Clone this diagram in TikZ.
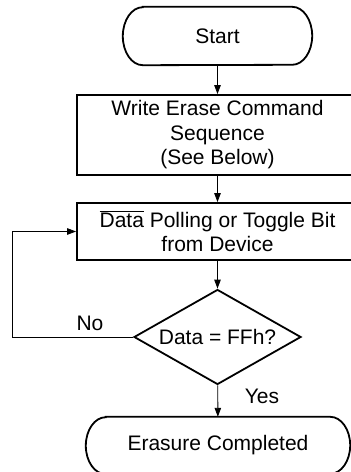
\documentclass[tikz,border=0pt]{standalone}
\usepackage{fontspec}
\setmainfont{Liberation Sans}
\usetikzlibrary{shapes.geometric,arrows.meta}
\begin{document}
\begin{tikzpicture}[x=1pt,y=1pt,
  txt/.style={font=\fontsize{21}{24.5}\selectfont},
  box/.style={txt,draw,line width=1.8pt,minimum width=281pt,inner sep=0pt,align=center},
  pill/.style={txt,minimum height=58pt,inner sep=0pt},
  pillline/.style={line width=1.8pt},
  conn/.style={line width=0.9pt,-{Triangle[length=9pt,width=6.5pt]}}]
\clip (0,0) rectangle (351,472);
% start
\node[pill,minimum width=189pt] (start) at (217.5,436) {Start};
\draw[pillline] ([xshift=20pt]start.north west) -- ([xshift=-20pt]start.north east)
  arc[start angle=90,end angle=-90,x radius=20pt,y radius=29pt]
  -- ([xshift=20pt]start.south west)
  arc[start angle=270,end angle=90,x radius=20pt,y radius=29pt] -- cycle;
% boxes
\node[box,minimum height=80pt] (b1) at (217.5,337) {Write Erase Command\\Sequence\\(See Below)};
\node[box,minimum height=57pt] (b2) at (217.5,240.5) {$\overline{\mbox{Data}}$ Polling or Toggle Bit\\from Device};
% decision
\node[txt,draw,diamond,line width=1.8pt,minimum width=167pt,minimum height=95pt,inner sep=0pt,aspect=1.76] (dec) at (217.5,135) {Data = FFh?};
% end
\node[pill,minimum width=264pt,minimum height=57pt] (end) at (218,26.5) {Erasure Completed};
\draw[pillline] ([xshift=20pt]end.north west) -- ([xshift=-20pt]end.north east)
  arc[start angle=90,end angle=-90,x radius=20pt,y radius=28.5pt]
  -- ([xshift=20pt]end.south west)
  arc[start angle=270,end angle=90,x radius=20pt,y radius=28.5pt] -- cycle;
% connectors
\draw[conn] (start) -- (b1);
\draw[conn] (b1) -- (b2);
\draw[conn] (b2) -- (dec);
\draw[conn] (dec) -- (end);
\coordinate (lp) at (12,240.5);
\draw[conn] (dec.west) -| (lp) -- (b2.west);
\node[txt] (no) at (90,149) {No};
\node[txt] (yes) at (262,76) {Yes};
\end{tikzpicture}
\end{document}
